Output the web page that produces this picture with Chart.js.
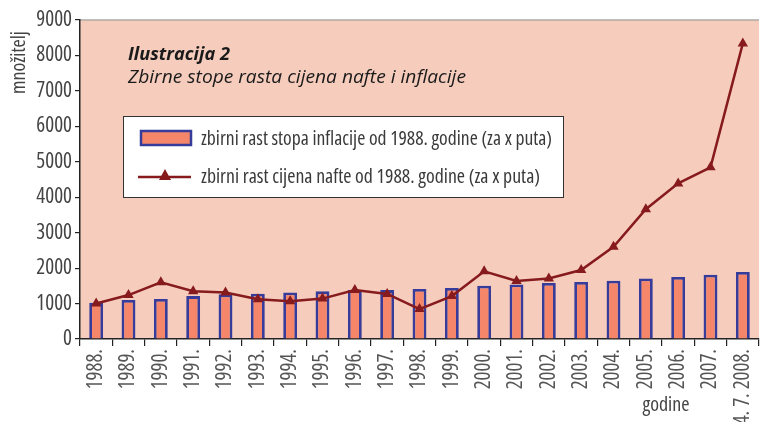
<!DOCTYPE html>
<html><head><meta charset="utf-8">
<script src="https://cdn.jsdelivr.net/npm/chart.js@4"></script>
<style>html,body{margin:0;padding:0;background:#fff;}#wrap{width:765px;height:422px;position:relative;}</style>
</head><body><div id="wrap"><canvas id="c" width="765" height="422"></canvas></div>
<script>
const categories = ['1988.','1989.','1990.','1991.','1992.','1993.','1994.','1995.','1996.','1997.','1998.','1999.','2000.','2001.','2002.','2003.','2004.','2005.','2006.','2007.','24. 7. 2008.'];
const inflation = [1020,1100,1130,1210,1260,1280,1310,1345,1380,1380,1410,1440,1505,1540,1580,1610,1645,1710,1750,1815,1890];
const oil = [1000,1240,1600,1345,1310,1120,1065,1140,1380,1270,845,1210,1910,1635,1710,1945,2600,3660,4390,4845,8340];
const yTicks = [0,1000,2000,3000,4000,5000,6000,7000,8000,9000];
const inflationLabel = 'zbirni rast stopa inflacije od 1988. godine (za x puta)';
const oilLabel = 'zbirni rast cijena nafte od 1988. godine (za x puta)';
const titleLine1 = 'Ilustracija 2';
const titleLine2 = 'Zbirne stope rasta cijena nafte i inflacije';
const yTitle = 'množitelj';
const xTitle = 'godine';

const FAM = "'Open Sans', sans-serif";
const COND = "condensed";
const BAR_FILL = '#F5866A', BAR_EDGE = '#373C9A', LINE = '#861A1D', BG = '#F6CDBD';

function fitText(ctx, text, x, y, width) {
  const w = ctx.measureText(text).width;
  ctx.save();
  ctx.translate(x, y);
  ctx.scale(width / w, 1);
  ctx.fillText(text, 0, 0);
  ctx.restore();
}

const decor = {
  id: 'decor',
  beforeDraw(chart) {
    const {ctx, chartArea: a} = chart;
    ctx.save();
    ctx.fillStyle = BG;
    ctx.fillRect(a.left, a.top, a.right - a.left, a.bottom - a.top);
    ctx.strokeStyle = '#AFA9A5';
    ctx.lineWidth = 1.5;
    ctx.beginPath(); ctx.moveTo(a.left, a.top); ctx.lineTo(a.right, a.top); ctx.stroke();
    ctx.restore();
  },
  afterDatasetsDraw(chart) {
    const {ctx} = chart;
    ctx.save();
    ctx.fillStyle = '#1a1a1a';
    ctx.textBaseline = 'alphabetic';
    ctx.font = "italic bold 18px " + FAM;
    fitText(ctx, titleLine1, 128, 60, 102);
    ctx.font = "italic 19px " + FAM;
    fitText(ctx, titleLine2, 128, 83, 338);
    ctx.fillStyle = '#fff';
    ctx.fillRect(123, 116, 440, 81);
    ctx.strokeStyle = '#333';
    ctx.lineWidth = 1;
    ctx.strokeRect(123.5, 116.5, 440, 81);
    ctx.fillStyle = BAR_FILL;
    ctx.fillRect(141, 131, 50, 14);
    ctx.strokeStyle = BAR_EDGE; ctx.lineWidth = 2.5;
    ctx.strokeRect(141, 131, 50, 14);
    ctx.strokeStyle = LINE; ctx.lineWidth = 2.5;
    ctx.beginPath(); ctx.moveTo(138, 177); ctx.lineTo(191, 177); ctx.stroke();
    ctx.fillStyle = LINE;
    ctx.beginPath(); ctx.moveTo(165, 169); ctx.lineTo(171, 180); ctx.lineTo(159, 180); ctx.closePath(); ctx.fill();
    ctx.fillStyle = '#3a3a3a';
    ctx.font = COND + " 20px " + FAM;
    ctx.textBaseline = 'middle';
    fitText(ctx, inflationLabel, 201, 139, 351);
    fitText(ctx, oilLabel, 201, 177, 339);
    ctx.fillStyle = '#444';
    ctx.font = COND + " 20px " + FAM;
    ctx.textAlign = 'right';
    ctx.save();
    ctx.translate(19, 31);
    ctx.rotate(-Math.PI / 2);
    ctx.fillText(yTitle, 0, 0);
    ctx.restore();
    ctx.textAlign = 'center';
    ctx.font = COND + " 20px " + FAM;
    ctx.fillText(xTitle, 666, 405);
    ctx.restore();
  }
};

new Chart(document.getElementById('c'), {
  data: {
    labels: categories,
    datasets: [
      { type: 'line', label: oilLabel, data: oil, borderColor: LINE, backgroundColor: LINE, borderWidth: 2.5,
        pointStyle: 'triangle', pointRadius: 6, pointBorderWidth: 0, tension: 0, order: 0 },
      { type: 'bar', label: inflationLabel, data: inflation, backgroundColor: BAR_FILL, borderColor: BAR_EDGE,
        borderWidth: 2.8, categoryPercentage: 1, barPercentage: 0.43, order: 1 }
    ]
  },
  options: {
    responsive: false, animation: false,
    layout: { padding: { top: 20, right: 0, left: 0, bottom: 0 } },
    plugins: { legend: { display: false }, tooltip: { enabled: false } },
    scales: {
      x: {
        offset: true,
        grid: { display: true, offset: true, drawOnChartArea: false, tickLength: 7, color: '#222', lineWidth: 1.2 },
        border: { display: true, color: '#222', width: 1.5 },
        ticks: { minRotation: 90, maxRotation: 90, autoSkip: false, padding: 3, color: '#555', font: { family: FAM, size: 21, weight: COND } },
        afterFit(s) { s.height = 83; s.paddingLeft = 0; s.paddingRight = 0; }
      },
      y: {
        min: 0, max: 9000,
        afterBuildTicks(s) { s.ticks = yTicks.map(v => ({ value: v })); },
        grid: { display: true, drawOnChartArea: false, tickLength: 5, color: '#222', lineWidth: 1.2 },
        border: { display: true, color: '#222', width: 1.5 },
        ticks: { padding: 3, color: '#444', font: { family: FAM, size: 21, weight: COND }, callback: v => String(v) },
        afterFit(s) { s.width = 80; }
      }
    }
  },
  plugins: [decor]
});
</script></body></html>
